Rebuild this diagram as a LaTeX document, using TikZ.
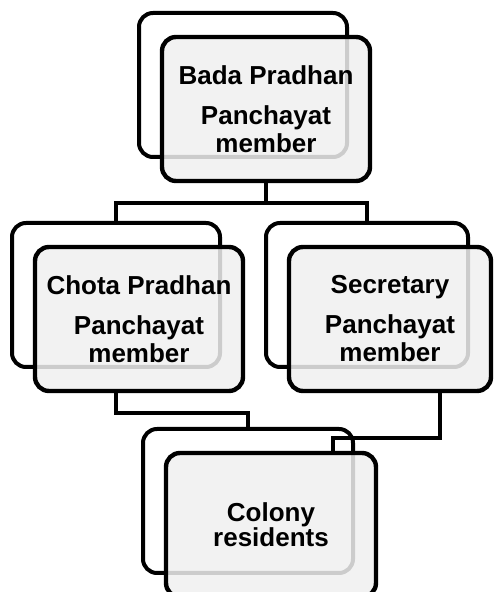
\documentclass[tikz,border=0pt]{standalone}
\usepackage{fontspec}
\setmainfont{Liberation Sans}
\usetikzlibrary{backgrounds}
\begin{document}
\begin{tikzpicture}[x=1pt, y=1pt,
    post/.style = {draw, line width=4.4pt, rounded corners=14pt, minimum width=208pt, minimum height=144pt, inner sep=0pt,
        fill=gray!12, fill opacity=0.85, text opacity=1, align=center, font=\fontsize{26}{28}\selectfont\bfseries},
    postback/.style = {draw, line width=4pt, rounded corners=14pt, minimum width=208pt, minimum height=144pt, inner sep=0pt, fill=white},
    link/.style = {line width=4pt}]
    \useasboundingbox (0,0) rectangle (493,592);
    \node[post] (1) at (266,483) {Bada Pradhan\\[12pt]Panchayat\\member};
    \node[post] (2) at (139,273) {Chota Pradhan\\[12pt]Panchayat\\member};
    \node[post, minimum width=202pt] (3) at (390,273) {Secretary\\[12pt]Panchayat\\member};
    \node[post, minimum width=210pt] (4) at (271,67) {Colony\\[-3pt]residents};
    \begin{scope}[on background layer]
        \node[postback] (1b) at ([xshift=-23pt, yshift=24pt]1.center) {};
        \node[postback] (2b) at ([xshift=-23pt, yshift=24pt]2.center) {};
        \node[postback, minimum width=202pt] (3b) at ([xshift=-23pt, yshift=24pt]3.center) {};
        \node[postback, minimum width=210pt] (4b) at ([xshift=-23pt, yshift=24pt]4.center) {};
    \end{scope}
    % top level
    \path (1.south) ++(0,-20) coordinate (top);
    \draw[link] (1.south) -- (top);
    \draw[link] (2b.north) |- (top) -| (3b.north);
    % down to the colony
    \path (2b.center |- 2.south) ++(0,-20) coordinate (mid);
    \draw[link] (2b.center |- 2.south) -- (mid) -| (4b.north);
    \path ([xshift=50pt]3.south) ++(0,-45) coordinate (turn);
    \draw[link] ([xshift=50pt]3.south) -- (turn) -| ([xshift=62pt]4.north);
\end{tikzpicture}
\end{document}
